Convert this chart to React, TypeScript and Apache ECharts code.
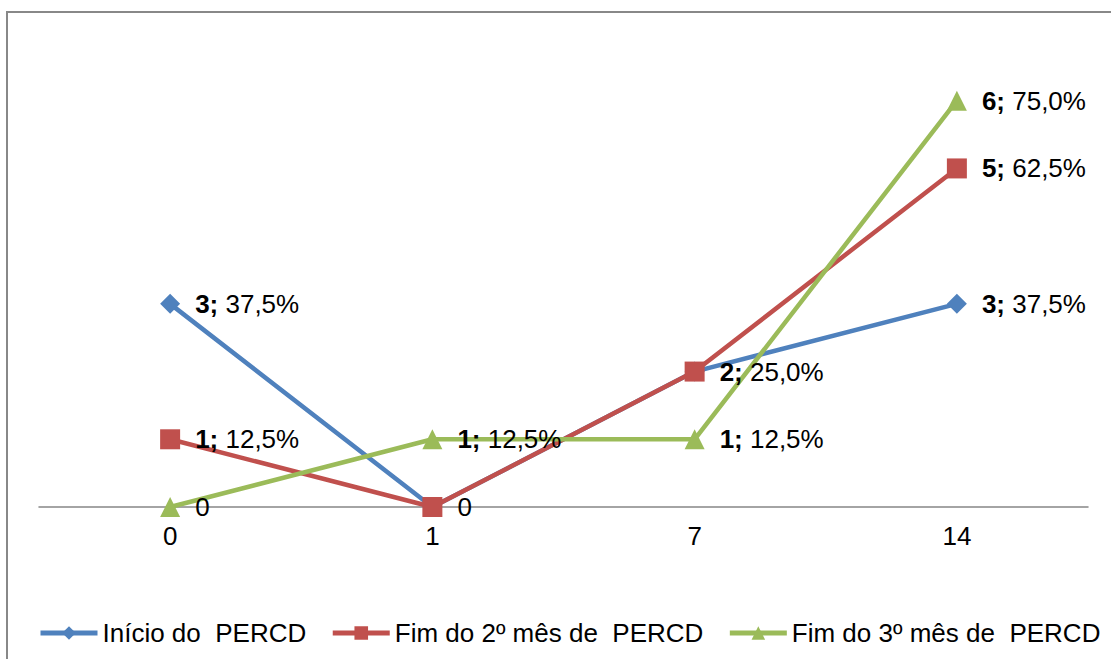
import React, { useEffect, useRef } from "react";
import * as echarts from "echarts";

const categories = ["0", "1", "7", "14"];
const TOTAL = 8;
const inicio = [3, 0, 2, 3];
const fim2 = [1, 0, 2, 5];
const fim3 = [0, 1, 1, 6];
const seriesNames = ["Início do  PERCD", "Fim do 2º mês de  PERCD", "Fim do 3º mês de  PERCD"];
// which points show a data label (duplicates hidden under other series)
const inicioLabelShown = [true, false, false, true];
const fim2LabelShown = [true, true, true, true];
const fim3LabelShown = [true, true, true, true];

const FONT = "'Liberation Sans', Arial, sans-serif";

function fmt(v: number): string {
  if (v === 0) return "0";
  const pct = ((v / TOTAL) * 100).toFixed(1).replace(".", ",");
  return `{b|${v};} ${pct}%`;
}

function makeData(vals: number[], shown: boolean[]) {
  return vals.map((v, i) => ({ value: v, label: { show: shown[i] } }));
}

export default function App() {
  const ref = useRef<HTMLDivElement>(null);
  useEffect(() => {
    document.body.style.margin = "0";
    document.body.style.overflow = "hidden";
    if (!ref.current) return;
    const chart = echarts.init(ref.current, undefined, { renderer: "svg" });
    const label = {
      show: true,
      position: "right",
      distance: 15,
      color: "#000",
      fontSize: 26,
      fontFamily: FONT,
      formatter: (p: any) => fmt(p.value),
      rich: { b: { fontWeight: "bold", fontSize: 26, color: "#000", fontFamily: FONT } },
    };
    const mk = (name: string, vals: number[], shown: boolean[], color: string, symbol: string) => ({
      name,
      type: "line",
      data: makeData(vals, shown),
      symbol,
      symbolSize: 20,
      showAllSymbol: true,
      lineStyle: { color, width: 4.5 },
      itemStyle: { color },
      label,
    });
    chart.setOption({
      animation: false,
      backgroundColor: "#fff",
      textStyle: { fontFamily: FONT },
      grid: { left: 39, right: 23, top: 33, bottom: 152, containLabel: false },
      xAxis: {
        type: "category",
        data: categories,
        boundaryGap: true,
        axisLine: { lineStyle: { color: "#868686", width: 1.5 } },
        axisTick: { show: false },
        axisLabel: { color: "#000", fontSize: 26, fontFamily: FONT, margin: 16 },
      },
      yAxis: {
        type: "value",
        min: 0,
        max: 7,
        interval: 1,
        show: false,
        splitLine: { show: false },
      },
      legend: {
        left: 33,
        top: 615,
        itemWidth: 57,
        itemHeight: 17,
        itemGap: 24,
        lineStyle: { width: 5 },
        textStyle: { color: "#000", fontSize: 26, fontFamily: FONT },
        data: seriesNames,
      },
      graphic: [
        {
          type: "rect",
          shape: { x: 7, y: 12, width: 1300, height: 800 },
          style: { fill: "none", stroke: "#888", lineWidth: 2 },
          silent: true,
        },
      ],
      series: [
        mk(seriesNames[0], inicio, inicioLabelShown, "#4F81BD", "diamond"),
        mk(seriesNames[1], fim2, fim2LabelShown, "#C0504D", "rect"),
        mk(seriesNames[2], fim3, fim3LabelShown, "#9BBB59", "triangle"),
      ],
    });
    return () => chart.dispose();
  }, []);
  return <div ref={ref} style={{ width: 1111, height: 659 }} />;
}
